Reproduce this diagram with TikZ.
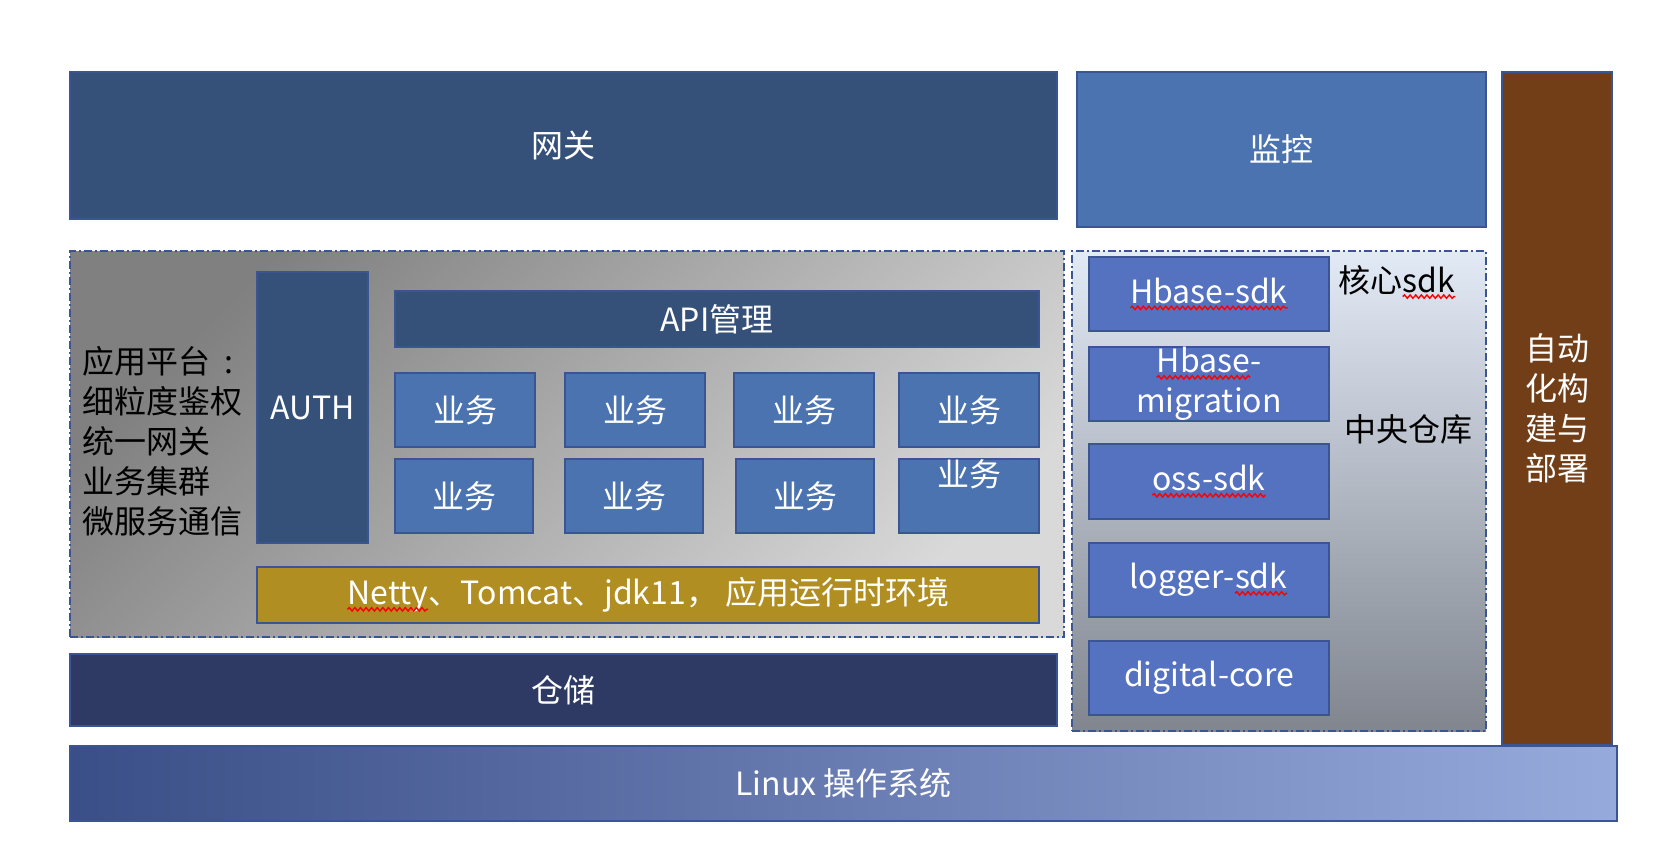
\documentclass[tikz,border=0pt]{standalone}
\usepackage{fontspec}
\setmainfont{Noto Sans CJK SC}
\usepackage{tikz}
\usetikzlibrary{positioning,decorations.pathmorphing}
\newcommand\redwave[1]{\tikz[baseline=(w.base)]{\node[shape=rectangle,draw=none,fill=none,
    inner sep=0pt,outer sep=0pt,minimum size=0pt,anchor=center,at={(0,0)}] (w) {#1};
  \draw[red,line width=0.7pt,decorate,decoration={snake,amplitude=0.85pt,segment length=2.8pt}]
    ([yshift=-2.3pt]w.base west) -- ([yshift=-2.3pt]w.base east);}}
\definecolor{bian}{RGB}{59,84,148}
\definecolor{shenlan}{RGB}{53,80,121}
\definecolor{zhonglan}{RGB}{74,115,176}
\definecolor{anlan}{RGB}{46,58,100}
\definecolor{sdklan}{RGB}{84,114,192}
\definecolor{jinse}{RGB}{176,142,34}
\definecolor{zongse}{RGB}{114,62,24}
\tikzset{
  hezi/.style args={#1/#2/#3/#4}{minimum width={(#3-#1)*0.5pt},minimum height={(#4-#2)*0.5pt},
    at={({(#1+#3)/2},{(#2+#4)/2})}},
  kuang/.style={draw=bian,line width=1pt,inner sep=0pt,text=white,align=center},
  xu/.style={draw=bian,line width=1.2pt,inner sep=0pt,
    dash pattern=on 4pt off 1.5pt on 1pt off 1.5pt},
  hei/.style={text=black,inner sep=0pt},
}

\begin{document}
\begin{tikzpicture}[x=0.5pt,y=-0.5pt,font=\fontsize{16}{20}\selectfont]
  \useasboundingbox (0,0) rectangle (1660,846);
  % containers
  \node[xu,top color=black!50,bottom color=black!15,shading angle=45,
    hezi=70/251/1064/637] (pingtai) {};
  \node[xu,top color={rgb,255:red,226;green,234;blue,246},bottom color={rgb,255:red,128;green,133;blue,142},
    hezi=1072/251/1486/731] (cangku) {};
  % top row
  \node[kuang,fill=shenlan,hezi=70/72/1057/219] (wangguan) {网关};
  \node[kuang,fill=zhonglan,hezi=1077/72/1486/227] (jiankong) {监控};
  \node[kuang,fill=zongse,hezi=1502/72/1612/745] (bushu) {自动\\化构\\建与\\部署};
  % application platform
  \node[hei,anchor=west,align=left] (ptwz) at (82,441)
    {应用平台\hspace{0.45em}:\\细粒度鉴权\\统一网关\\业务集群\\微服务通信};
  \node[kuang,fill=shenlan,hezi=257/272/368/543] (auth) {AUTH};
  \node[kuang,fill=shenlan,hezi=395/291/1039/347] (api) {API管理};
  \foreach \x/\n in {395/1,565/2,734/3,899/4} {
    \node[kuang,fill=zhonglan,hezi=\x/373/\x+140/447] (yw\n) {业务};
  }
  \foreach \x/\n in {395/5,565/6,736/7} {
    \node[kuang,fill=zhonglan,hezi=\x/459/\x+138/533] (yw\n) {业务};
  }
  \node[kuang,fill=zhonglan,hezi=899/459/1039/533,
    label={[text=white,yshift=11pt]center:业务}] (yw8) {};
  \node[kuang,fill=jinse,hezi=257/567/1039/623] (huanjing)
    {\redwave{Netty}、Tomcat、jdk11，\ 应用运行时环境};
  % storage and os
  \node[kuang,fill=anlan,hezi=70/654/1057/726] (cangchu) {仓储};
  \node[kuang,left color={rgb,255:red,58;green,78;blue,135},
    middle color={rgb,255:red,84;green,112;blue,190},
    right color={rgb,255:red,150;green,170;blue,220},
    hezi=70/746/1617/821] (linux) {Linux 操作系统};
  % central repository
  \node[kuang,fill=sdklan,hezi=1089/257/1329/331] (hbsdk) {\redwave{Hbase-sdk}};
  \node[kuang,fill=sdklan,hezi=1089/347/1329/421] (hbmig) {\redwave{Hbase}-\\migration};
  \node[kuang,fill=sdklan,hezi=1089/444/1329/519] (oss) {\redwave{oss-sdk}};
  \node[kuang,fill=sdklan,hezi=1089/543/1329/617] (logger) {logger-\redwave{sdk}};
  \node[kuang,fill=sdklan,hezi=1089/641/1329/715] (digital) {digital-core};
  \node[hei] (hexin) at (1397,282) {核心\redwave{sdk}};
  \node[hei] (zhongyang) at (1408,429) {中央仓库};
\end{tikzpicture}
\end{document}
